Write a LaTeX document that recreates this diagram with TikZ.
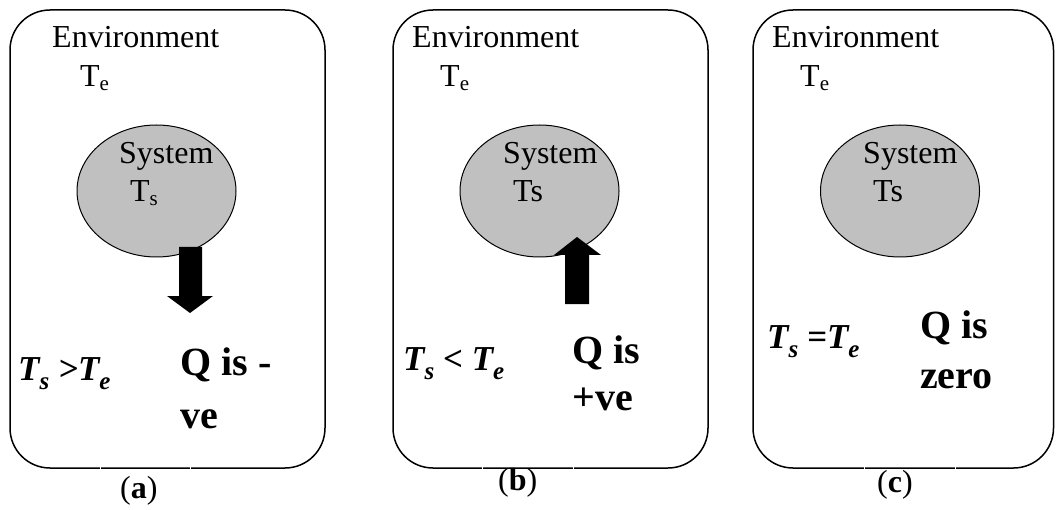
\documentclass[tikz,border=0pt]{standalone}
\usepackage{fontspec}
\setmainfont{Liberation Serif}
\usetikzlibrary{shapes.geometric}
\definecolor{sysgray}{RGB}{192,192,192}
\newcommand\mysub[1]{\raisebox{-0.12em}{\fontsize{21}{21}\selectfont #1}}
\newcommand\mybsub[1]{\raisebox{-0.28em}{\fontsize{25}{25}\selectfont #1}}
\begin{document}
\begin{tikzpicture}[x=1pt,y=-1pt,
  envbox/.style={draw, line width=1.5pt, rounded corners=40pt},
  sysell/.style={ellipse, draw, fill=sysgray, line width=1pt, minimum width=159pt, minimum height=132pt, inner sep=0pt},
  lbl/.style={anchor=base west, inner sep=0pt, font=\fontsize{32}{38}\selectfont},
  qtxt/.style={anchor=base west, inner sep=0pt, font=\bfseries\fontsize{40}{44}\selectfont},
  mth/.style={anchor=base west, inner sep=0pt, font=\bfseries\itshape\fontsize{35}{40}\selectfont},
  captxt/.style={anchor=base west, inner sep=0pt, font=\fontsize{32}{38}\selectfont},
  heat/.style={fill=black},
  gap/.style={draw=white, line width=1pt}]
\useasboundingbox (0,0) rectangle (1056,510);

% ---------- (a)
\draw[envbox] (10,10) rectangle (325,468);
\draw[gap] (100,466) -- (100,470);
\draw[gap] (190,466) -- (190,470);
\node[sysell] (sysa) at (156.5,191) {};
\node[lbl] (enva) at (52,48) {Environment};
\node[lbl] (tea) at (80,87) {T\mysub{e}};
\node[lbl] (systa) at (119,164) {System};
\node[lbl] (tsa) at (130,202) {T\mysub{s}};
\fill[heat] (179,247) -- (202,247) -- (202,296) -- (213,296) -- (190,313) -- (167,296) -- (179,296) -- cycle;
\node[mth] (ma) at (18,380) {T\mybsub{s} >T\mybsub{e}};
\node[qtxt] (qa1) at (180,375) {Q is -};
\node[qtxt] (qa2) at (180,428) {ve};
\node[captxt] (capa) at (120,498) {(\textbf{a})};

% ---------- (b)
\draw[envbox] (393,10) rectangle (708,468);
\draw[gap] (482,466) -- (482,470);
\draw[gap] (573,466) -- (573,470);
\node[sysell] (sysb) at (539.5,191) {};
\node[lbl] (envb) at (412,48) {Environment};
\node[lbl] (teb) at (440,87) {T\mysub{e}};
\node[lbl] (systb) at (503,164) {System};
\node[lbl] (tsb) at (513,202) {Ts};
\fill[heat] (565,304) -- (589,304) -- (589,255) -- (601,255) -- (577,237) -- (554,255) -- (565,255) -- cycle;
\node[mth] (mb) at (403,370) {T\mybsub{s} < T\mybsub{e}};
\node[qtxt] (qb1) at (572,363) {Q is};
\node[qtxt] (qb2) at (572,410) {+ve};
\node[captxt] (capb) at (498,490) {(\textbf{b})};

% ---------- (c)
\draw[envbox] (753,10) rectangle (1053.5,468);
\draw[gap] (864,466) -- (864,470);
\draw[gap] (955,466) -- (955,470);
\node[sysell] (sysc) at (900,191) {};
\node[lbl] (envc) at (772,48) {Environment};
\node[lbl] (tec) at (800,87) {T\mysub{e}};
\node[lbl] (systc) at (863,164) {System};
\node[lbl] (tsc) at (873,202) {Ts};
\node[mth] (mc) at (767,348) {T\mybsub{s} =T\mybsub{e}};
\node[qtxt] (qc1) at (920,338) {Q is};
\node[qtxt] (qc2) at (920,388) {zero};
\node[captxt] (capc) at (877,492) {(\textbf{c})};
\end{tikzpicture}
\end{document}
